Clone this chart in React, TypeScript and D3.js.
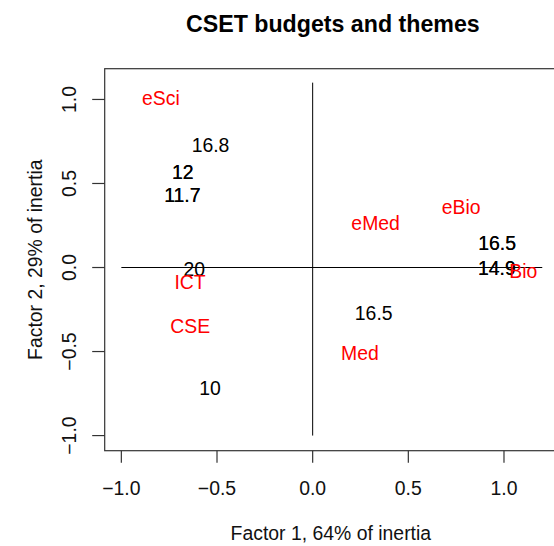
import React from "react";
import * as d3 from "d3";

const title = "CSET budgets and themes";
const xTitle = "Factor 1, 64% of inertia";
const yTitle = "Factor 2, 29% of inertia";

// Row points (budgets) – black labels
const rowLabels = ["16.8", "12", "12", "11.7", "11.7", "16.5", "16.5", "14.9", "14.9", "20", "16.5", "10"];
const rowX = [-0.534, -0.679, -0.679, -0.681, -0.681, 0.964, 0.964, 0.963, 0.963, -0.619, 0.319, -0.537];
const rowY = [0.729, 0.57, 0.57, 0.432, 0.432, 0.144, 0.144, -0.005, -0.005, -0.011, -0.269, -0.719];

// Column points (themes) – red labels
const colLabels = ["eSci", "eMed", "eBio", "Bio", "ICT", "CSE", "Med"];
const colX = [-0.793, 0.329, 0.776, 1.101, -0.641, -0.64, 0.247];
const colY = [1.009, 0.263, 0.362, -0.019, -0.085, -0.348, -0.507];

const xTicks = [-1, -0.5, 0, 0.5, 1];
const yTicks = [-1, -0.5, 0, 0.5, 1];

const W = 554;
const H = 546;
const left = 104.7;
const right = 561;
const top = 68.7;
const bottom = 450.7;

export default function App() {
  const x = d3.scaleLinear().domain([-1.087, 1.298]).range([left, right]);
  const y = d3.scaleLinear().domain([-1.09, 1.183]).range([bottom, top]);
  const fmt = d3.format(".1f");
  const font = "'Liberation Sans', Arial, Helvetica, sans-serif";
  const fs = 19.4;

  return (
    <svg
      width={W}
      height={H}
      style={{ position: "absolute", left: 0, top: 0, background: "#fff" }}
      fontFamily={font}
    >
      <rect x={0} y={0} width={W} height={H} fill="#fff" />
      <text x={(left + right) / 2} y={32} textAnchor="middle" fontWeight="bold" fontSize={23.2}>
        {title}
      </text>
      {/* crosshair */}
      <line x1={x(-1)} x2={x(1.2)} y1={y(0)} y2={y(0)} stroke="#000" strokeWidth={1} />
      <line x1={x(0)} x2={x(0)} y1={y(1.1)} y2={y(-1)} stroke="#000" strokeWidth={1} />
      {/* box */}
      <rect x={left} y={top} width={right - left} height={bottom - top} fill="none" stroke="#333" strokeWidth={1.2} />
      {/* x axis */}
      {xTicks.map((t) => (
        <g key={"x" + t}>
          <line x1={x(t)} x2={x(t)} y1={bottom} y2={bottom + 12} stroke="#333" strokeWidth={1.2} />
          <text x={x(t)} y={bottom + 44.3} textAnchor="middle" fontSize={fs} fill="#111">
            {fmt(t)}
          </text>
        </g>
      ))}
      {/* y axis */}
      {yTicks.map((t) => (
        <g key={"y" + t}>
          <line x1={left} x2={left - 12.5} y1={y(t)} y2={y(t)} stroke="#333" strokeWidth={1.2} />
          <text
            transform={`translate(${left - 29},${y(t)}) rotate(-90)`}
            textAnchor="middle"
            fontSize={fs}
            fill="#111"
          >
            {fmt(t)}
          </text>
        </g>
      ))}
      <text x={(left + right) / 2 - 2} y={540} textAnchor="middle" fontSize={fs} fill="#111">
        {xTitle}
      </text>
      <text transform={`translate(42,${(top + bottom) / 2}) rotate(-90)`} textAnchor="middle" fontSize={fs} fill="#111">
        {yTitle}
      </text>
      {/* row labels */}
      {rowLabels.map((l, i) => (
        <text key={"r" + i} x={x(rowX[i])} y={y(rowY[i])} dy="0.36em" textAnchor="middle" fontSize={fs} fill="#000">
          {l}
        </text>
      ))}
      {/* column labels */}
      {colLabels.map((l, i) => (
        <text key={"c" + i} x={x(colX[i])} y={y(colY[i])} dy="0.36em" textAnchor="middle" fontSize={fs} fill="#ff0000">
          {l}
        </text>
      ))}
    </svg>
  );
}
